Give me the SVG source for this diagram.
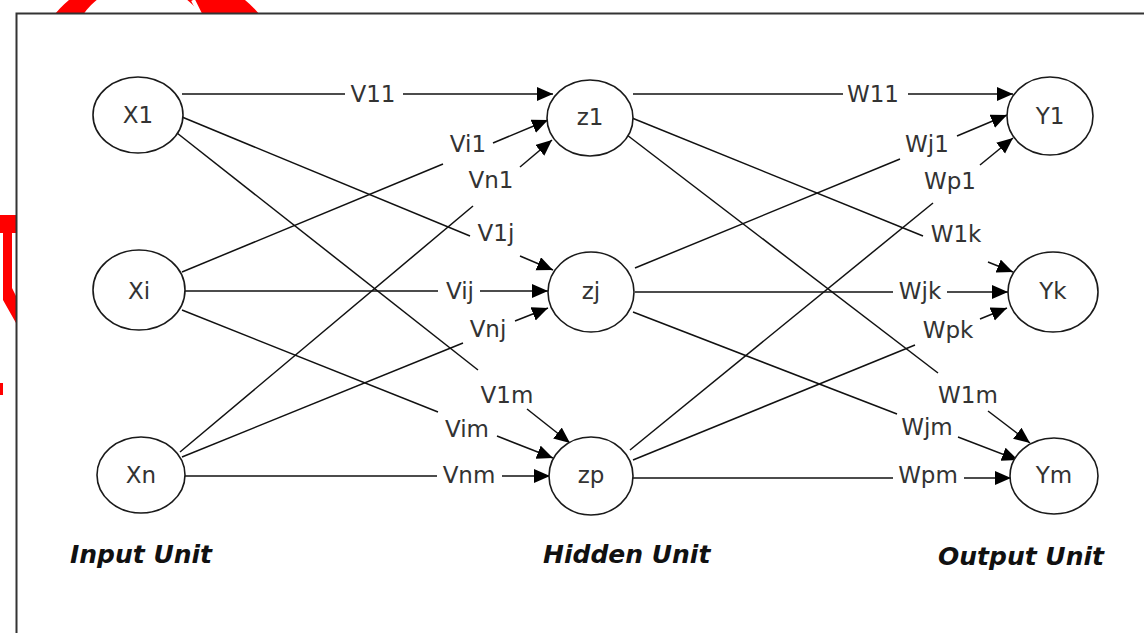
<svg xmlns="http://www.w3.org/2000/svg" width="1144" height="633" viewBox="0 0 1144 633">
<style>
.nd{fill:#fff;stroke:#1a1a1a;stroke-width:1.6}
.nt{font-family:"DejaVu Sans",Verdana,sans-serif;font-size:23px;fill:#333;text-anchor:middle}
.lb{font-family:"DejaVu Sans",Verdana,sans-serif;font-size:23px;fill:#333;text-anchor:middle}
.un{font-family:"DejaVu Sans",Verdana,sans-serif;font-size:25px;font-weight:bold;font-style:italic;fill:#111}
.e{stroke:#111;stroke-width:1.5;fill:none}
.a{marker-end:url(#arr)}
</style>
<defs>
<marker id="arr" markerUnits="userSpaceOnUse" markerWidth="18" markerHeight="16" refX="16" refY="7" orient="auto">
<path d="M0,0 L16,7 L0,14 Z" fill="#000"/>
</marker>
</defs>
<rect width="1144" height="633" fill="#fff"/>
<g id="redmark">
<path fill="#f00" fill-rule="evenodd" d="M20,105 A137,137 0 1 1 294,105 A137,137 0 1 1 20,105 Z M70,56 A72,72 0 1 0 214,56 A72,72 0 1 0 70,56 Z"/>
<line x1="200" y1="14" x2="193" y2="0" stroke="#fff" stroke-width="4"/>
<path d="M0,215 L16,215 L16,233 L12,233 L12,288 L16,296 L16,323 L3,300 L3,233 L0,233 Z" fill="#f00"/>
<rect x="0" y="383" width="3" height="12" fill="#f00"/>
</g>
<rect x="16.5" y="13.5" width="1140" height="630" fill="#fff" stroke="#333" stroke-width="2"/>
<g id="connectors">
<line class="e" x1="182" y1="94" x2="345" y2="94"/><line class="e a" x1="403" y1="94" x2="553" y2="94"/>
<text class="lb" x="373" y="102">V11</text>
<line class="e" x1="182" y1="117" x2="470" y2="236"/><line class="e a" x1="520" y1="256" x2="553" y2="270"/>
<text class="lb" x="496" y="241">V1j</text>
<line class="e" x1="177" y1="133" x2="478" y2="370"/><line class="e a" x1="527" y1="409" x2="570" y2="443"/>
<text class="lb" x="507" y="403">V1m</text>
<line class="e" x1="182" y1="272" x2="443" y2="164"/><line class="e a" x1="493" y1="143" x2="548" y2="120"/>
<text class="lb" x="468" y="152">Vi1</text>
<line class="e" x1="185" y1="291" x2="438" y2="291"/><line class="e a" x1="480" y1="291" x2="548" y2="291"/>
<text class="lb" x="460" y="299">Vij</text>
<line class="e" x1="182" y1="310" x2="438" y2="412"/><line class="e a" x1="497" y1="436" x2="553" y2="458"/>
<text class="lb" x="467" y="437">Vim</text>
<line class="e" x1="180" y1="452" x2="473" y2="206"/><line class="e a" x1="520" y1="167" x2="552" y2="140"/>
<text class="lb" x="491" y="188">Vn1</text>
<line class="e" x1="182" y1="457" x2="463" y2="343"/><line class="e a" x1="515" y1="321" x2="548" y2="308"/>
<text class="lb" x="488" y="337">Vnj</text>
<line class="e" x1="185" y1="476" x2="437" y2="476"/><line class="e a" x1="502" y1="476" x2="550" y2="476"/>
<text class="lb" x="469" y="483">Vnm</text>
<line class="e" x1="633" y1="94" x2="843" y2="94"/><line class="e a" x1="908" y1="94" x2="1013" y2="94"/>
<text class="lb" x="873" y="102">W11</text>
<line class="e" x1="632" y1="118" x2="923" y2="236"/><line class="e a" x1="988" y1="262" x2="1013" y2="272"/>
<text class="lb" x="956" y="242">W1k</text>
<line class="e" x1="627" y1="135" x2="938" y2="373"/><line class="e a" x1="988" y1="411" x2="1030" y2="443"/>
<text class="lb" x="968" y="403">W1m</text>
<line class="e" x1="635" y1="268" x2="900" y2="159"/><line class="e a" x1="957" y1="136" x2="1007" y2="115"/>
<text class="lb" x="927" y="152">Wj1</text>
<line class="e" x1="635" y1="292" x2="893" y2="292"/><line class="e a" x1="947" y1="292" x2="1008" y2="292"/>
<text class="lb" x="920" y="299">Wjk</text>
<line class="e" x1="633" y1="312" x2="897" y2="414"/><line class="e a" x1="958" y1="437" x2="1018" y2="460"/>
<text class="lb" x="927" y="435">Wjm</text>
<line class="e" x1="630" y1="450" x2="933" y2="203"/><line class="e a" x1="980" y1="165" x2="1013" y2="138"/>
<text class="lb" x="950" y="189">Wp1</text>
<line class="e" x1="633" y1="460" x2="915" y2="345"/><line class="e a" x1="980" y1="319" x2="1007" y2="308"/>
<text class="lb" x="948" y="338">Wpk</text>
<line class="e" x1="633" y1="478" x2="893" y2="478"/><line class="e a" x1="964" y1="478" x2="1011" y2="478"/>
<text class="lb" x="928" y="483">Wpm</text>
</g>
<g id="X1"><ellipse class="nd" cx="138" cy="115" rx="45" ry="38"/><text class="nt" x="138" y="123">X1</text></g>
<g id="Xi"><ellipse class="nd" cx="139" cy="290" rx="46" ry="40"/><text class="nt" x="139" y="299">Xi</text></g>
<g id="Xn"><ellipse class="nd" cx="141" cy="475" rx="44" ry="38"/><text class="nt" x="141" y="483">Xn</text></g>
<g id="z1"><ellipse class="nd" cx="590" cy="118" rx="43" ry="38"/><text class="nt" x="590" y="125">z1</text></g>
<g id="zj"><ellipse class="nd" cx="591" cy="292" rx="43" ry="40"/><text class="nt" x="591" y="299">zj</text></g>
<g id="zp"><ellipse class="nd" cx="591" cy="476" rx="42" ry="39"/><text class="nt" x="591" y="483">zp</text></g>
<g id="Y1"><ellipse class="nd" cx="1050" cy="116" rx="43" ry="39"/><text class="nt" x="1050" y="124">Y1</text></g>
<g id="Yk"><ellipse class="nd" cx="1053" cy="292" rx="45" ry="40"/><text class="nt" x="1053" y="299">Yk</text></g>
<g id="Ym"><ellipse class="nd" cx="1054" cy="476" rx="44" ry="38"/><text class="nt" x="1054" y="483">Ym</text></g>
<g id="units">
<text class="un" x="70" y="563">Input Unit</text>
<text class="un" x="543" y="563">Hidden Unit</text>
<text class="un" x="938" y="565">Output Unit</text>
</g>
</svg>
